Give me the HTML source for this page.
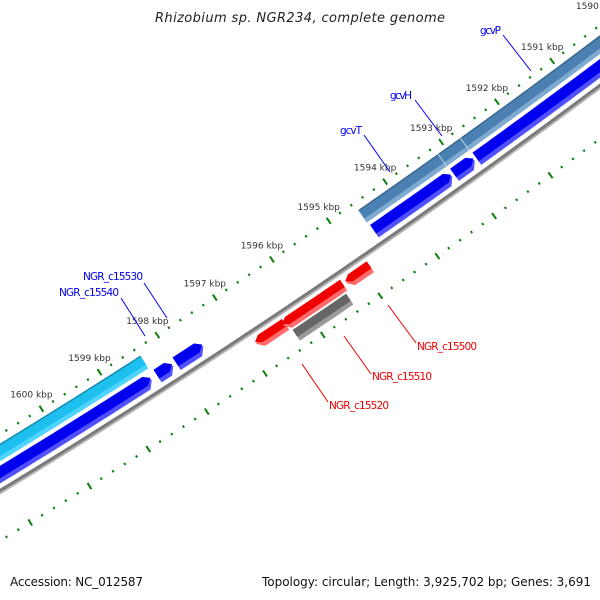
<!DOCTYPE html>
<html><head><meta charset="utf-8"><style>
html,body{margin:0;padding:0;background:#fff;}
svg{display:block;}
text{font-family:"DejaVu Sans","Liberation Sans",sans-serif;}
</style></head><body>
<svg id="chart" width="600" height="600" viewBox="0 0 600 600" xmlns="http://www.w3.org/2000/svg">
<rect width="600" height="600" fill="#fff"/>
<g id="rulers"></g>
<g id="features"></g>
<g id="labels"></g>
<text x="300" y="22" text-anchor="middle" font-size="13" font-style="italic" fill="#222" textLength="290">Rhizobium sp. NGR234, complete genome</text>
<text x="10" y="586" font-size="12" fill="#111" textLength="133">Accession: NC_012587</text>
<text x="591" y="586" text-anchor="end" font-size="12" fill="#111" textLength="329">Topology: circular; Length: 3,925,702 bp; Genes: 3,691</text>
</svg>
<script>
// ---- data ----
const tickKbp = [1589,1590,1591,1592,1593,1594,1595,1596,1597,1598,1599,1600,1601,1602,1603];
const tickLabels = ["1589 kbp","1590 kbp","1591 kbp","1592 kbp","1593 kbp","1594 kbp","1595 kbp","1596 kbp","1597 kbp","1598 kbp","1599 kbp","1600 kbp","1601 kbp","1602 kbp","1603 kbp"];
const featureNames = ["NGR_c15540","gcvT","gcvH","gcvP","NGR_c15540-cds","NGR_c15540b-cds","NGR_c15530-cds","gcvT-cds","gcvH-cds","gcvP-cds","NGR_c15520","NGR_c15510-red","NGR_c15500","NGR_c15510"];
const featureStart = [1598.37,1593.14,1592.74,1587.5,1598.42,1598.05,1597.53,1593.16,1592.76,1587.5,1596.36,1595.35,1594.88,1595.39];
const featureEnd   = [1604.5,1594.56,1593.14,1592.74,1604.5,1598.32,1597.99,1594.54,1593.12,1592.72,1596.87,1596.40,1595.30,1596.32];
const featureKind  = ["gene-a","gene","gene","gene","cds","cds","cds","cds","cds","cds","rcds","rcds","rcds","pseudo"];
const labelNames = ["gcvP","gcvH","gcvT","NGR_c15530","NGR_c15540","NGR_c15500","NGR_c15510","NGR_c15520"];

// ---- geometry ----
const Cx=-3893, Cy=-5920, A0=53.38, K=0.528;
const NS="http://www.w3.org/2000/svg";
function pt(k,r){const a=(A0+(k-1591)*K)*Math.PI/180;return [Cx+r*Math.cos(a),Cy+r*Math.sin(a)];}
function mk(tag,attrs,parent){const e=document.createElementNS(NS,tag);for(const k in attrs)e.setAttribute(k,attrs[k]);parent.appendChild(e);return e;}
function shapePts(k1,k2,r1,r2,tip){
  const tl=0.09;let s1=k1,s2=k2;
  if(tip==='low')s1=k1+tl; if(tip==='high')s2=k2-tl;
  const n=Math.max(4,Math.ceil((s2-s1)*8));const p=[];
  for(let i=0;i<=n;i++)p.push(pt(s1+(s2-s1)*i/n,r1));
  if(tip==='high')p.push(pt(k2,(r1+r2)/2));
  for(let i=0;i<=n;i++)p.push(pt(s2-(s2-s1)*i/n,r2));
  if(tip==='low')p.push(pt(k1,(r1+r2)/2));
  return p.map(q=>q[0].toFixed(2)+','+q[1].toFixed(2)).join(' ');
}

// ---- rulers ----
const rg=document.getElementById('rulers');
// backbone
function arcPath(k1,k2,r){let d='';const n=60;for(let i=0;i<=n;i++){const q=pt(k1+(k2-k1)*i/n,r);d+=(i?'L':'M')+q[0].toFixed(2)+','+q[1].toFixed(2);}return d;}
const bbShadow=mk('path',{d:arcPath(1587,1605,7502.3),stroke:'#b4b4b4','stroke-width':2.2,fill:'none'},rg);


const bb=mk('path',{d:arcPath(1587,1605,7500),stroke:'#7a7a7a','stroke-width':3,fill:'none'},rg);


const rulerR=[7452,7543];
for(let ri=0;ri<2;ri++){
  for(let i=0;i<=80;i++){
    const k=1587+i*0.2;const major=Math.abs(k-Math.round(k))<1e-6;const d=major?3.6:1.2;
    const a=pt(k,rulerR[ri]-d),b=pt(k,rulerR[ri]+d);
    const t=mk('line',{x1:a[0],y1:a[1],x2:b[0],y2:b[1],stroke:'#0b7f0b','stroke-width':2},rg);
    
    
  }
}
for(let i=0;i<tickKbp.length;i++){
  const q=pt(tickKbp[i],rulerR[0]);
  const t=mk('text',{x:(q[0]-10).toFixed(1),y:(q[1]-11).toFixed(1),'text-anchor':'middle','font-size':'9',fill:'#333'},rg);
  t.textContent=tickLabels[i];
  
  
}

// ---- features ----
const fg=document.getElementById('features');
const style={
  'gene-a':{r1:7460,r2:7475,main:'#1cbfee',light:'#4fd3ff',edge:'#1689ad',tip:null},
  'gene':{r1:7460,r2:7475,main:'#4a80b2',light:'#7eaad2',edge:'#3a6890',tip:null},
  'cds':{r1:7479,r2:7494,main:'#0000ee',light:'#5050ff',edge:null,tip:'low'},
  'rcds':{r1:7507,r2:7520,main:'#f00000',light:'#ff6a6a',edge:null,tip:'high'},
  'pseudo':{r1:7522,r2:7535,main:'#666666',light:'#9a9a9a',edge:null,tip:null}
};
for(let i=0;i<featureNames.length;i++){
  const s=style[featureKind[i]];const k1=featureStart[i],k2=featureEnd[i];
  const g=mk('g',{},fg);
  
  
  mk('polygon',{points:shapePts(k1,k2,s.r1,s.r2,s.tip),fill:s.light},g);
  mk('polygon',{points:shapePts(k1,k2,s.r1,s.r2-4.5,s.tip),fill:s.main},g);
  if(s.edge){mk('path',{d:arcPath(k1,k2,s.r1+0.7),stroke:s.edge,'stroke-width':1.4,fill:'none'},g);}
  if(featureKind[i]==='gene'){const a=pt(k2,s.r1),b=pt(k2,s.r2);
    mk('line',{x1:a[0],y1:a[1],x2:b[0],y2:b[1],stroke:'#b8d2ea','stroke-width':1},g);}
}

// ---- labels ----
const lg=document.getElementById('labels');
const labelText=[[480,34],[390,99],[340,134],[83,280],[59,296],[417,350],[372,380],[329,409]];
const labelLine=[[503,35,531,71],[415,100,442,136],[364,135,390,172],[144,283,167,318],[121,298,145,336],[388,305,416,343],[344,336,371,374],[302,364,328,402]];
for(let i=0;i<labelNames.length;i++){
  const col=i<5?'#0000ee':'#ee0000';
  const l=mk('line',{x1:labelLine[i][0],y1:labelLine[i][1],x2:labelLine[i][2],y2:labelLine[i][3],stroke:col,'stroke-width':1},lg);
  
  
  const t=mk('text',{x:labelText[i][0],y:labelText[i][1],'font-size':'10.5',fill:col,textLength:labelNames[i].length>5?60:(labelNames[i]==='gcvP'?21:22)},lg);
  t.textContent=labelNames[i];
  
  
}
</script>
</body></html>
